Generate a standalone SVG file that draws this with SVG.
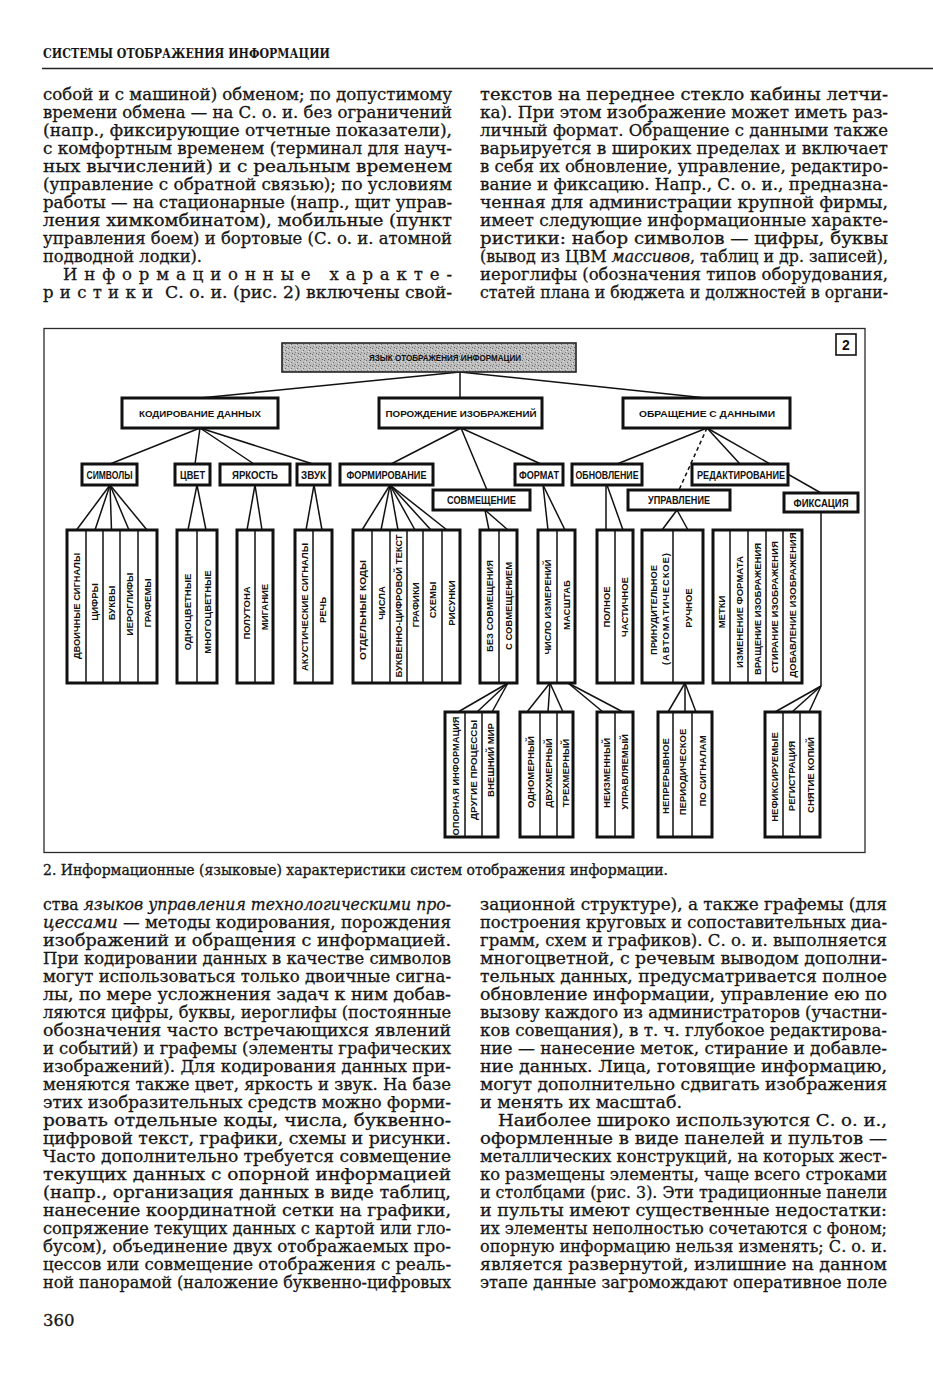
<svg xmlns="http://www.w3.org/2000/svg" width="933" height="1400" viewBox="0 0 933 1400">
<defs>
<pattern id="stip" width="6" height="6" patternUnits="userSpaceOnUse">
<rect width="6" height="6" fill="#bdbdbd"/>
<rect x="0" y="0" width="1" height="1" fill="#666"/>
<rect x="3" y="2" width="1" height="1" fill="#727272"/>
<rect x="1" y="4" width="1" height="1" fill="#808080"/>
<rect x="4" y="5" width="1" height="1" fill="#626262"/>
<rect x="5" y="1" width="1" height="1" fill="#e0e0e0"/>
<rect x="2" y="3" width="1" height="1" fill="#e4e4e4"/>
</pattern>
<style>
.body{font-family:"DejaVu Serif","Liberation Serif",serif;font-size:16.5px;fill:#161616;stroke:#161616;stroke-width:0.3}
.it{font-style:italic}
.hdr{font-family:"DejaVu Serif","Liberation Serif",serif;font-size:13.5px;font-weight:bold;fill:#161616}
.cap{font-family:"DejaVu Serif","Liberation Serif",serif;font-size:14px;fill:#161616;stroke:#161616;stroke-width:0.3}
.frame{fill:none;stroke:#2a2a2a;stroke-width:1.3}
.b1{fill:#fff;stroke:#111;stroke-width:3}
.b2{fill:#fff;stroke:#111;stroke-width:3}
.leaf{fill:#fff;stroke:#111;stroke-width:3}
.dv{stroke:#111;stroke-width:1.5}
.ln{stroke:#111;stroke-width:1.5;fill:none}
.dash{stroke:#111;stroke-width:1.5;stroke-dasharray:4 3;fill:none}
.l1{font-family:"Liberation Sans",Arial,sans-serif;font-weight:bold;font-size:9.5px;text-anchor:middle;fill:#111}
.l2{font-family:"Liberation Sans",Arial,sans-serif;font-weight:bold;font-size:10px;text-anchor:middle;fill:#111}
.lt{font-family:"Liberation Sans",Arial,sans-serif;font-weight:bold;font-size:9.5px;text-anchor:middle;dominant-baseline:central;fill:#111}
</style>
</defs>
<rect width="933" height="1400" fill="#fff"/>

<!-- header -->
<text class="hdr" x="43" y="58" textLength="287" lengthAdjust="spacingAndGlyphs">СИСТЕМЫ ОТОБРАЖЕНИЯ ИНФОРМАЦИИ</text>
<line x1="42" y1="68.5" x2="933" y2="68.5" stroke="#222" stroke-width="1.6"/>

<!-- top left column -->
<g id="text-top-left" class="body">
<text x="43" y="99.5" textLength="409" lengthAdjust="spacingAndGlyphs">собой и с машиной) обменом; по допустимому</text>
<text x="43" y="117.5" textLength="409" lengthAdjust="spacingAndGlyphs">времени обмена — на С. о. и. без ограничений</text>
<text x="43" y="135.5" textLength="409" lengthAdjust="spacingAndGlyphs">(напр., фиксирующие отчетные показатели),</text>
<text x="43" y="153.5" textLength="409" lengthAdjust="spacingAndGlyphs">с комфортным временем (терминал для науч-</text>
<text x="43" y="171.5" textLength="409" lengthAdjust="spacingAndGlyphs">ных вычислений) и с реальным временем</text>
<text x="43" y="189.5" textLength="409" lengthAdjust="spacingAndGlyphs">(управление с обратной связью); по условиям</text>
<text x="43" y="207.5" textLength="409" lengthAdjust="spacingAndGlyphs">работы — на стационарные (напр., щит управ-</text>
<text x="43" y="225.5" textLength="409" lengthAdjust="spacingAndGlyphs">ления химкомбинатом), мобильные (пункт</text>
<text x="43" y="243.5" textLength="409" lengthAdjust="spacingAndGlyphs">управления боем) и бортовые (С. о. и. атомной</text>
<text x="43" y="261.5" textLength="159" lengthAdjust="spacingAndGlyphs">подводной лодки).</text>
<text x="63" y="279.5" textLength="389" lengthAdjust="spacing">Информационные характе-</text>
<text x="43" y="297.5" textLength="110" lengthAdjust="spacing">ристики</text>
<text x="165" y="297.5" textLength="287" lengthAdjust="spacingAndGlyphs">С. о. и. (рис. 2) включены свой-</text>
</g>

<!-- top right column -->
<g id="text-top-right" class="body">
<text x="480" y="99.5" textLength="408" lengthAdjust="spacingAndGlyphs">текстов на переднее стекло кабины летчи-</text>
<text x="480" y="117.5" textLength="408" lengthAdjust="spacingAndGlyphs">ка). При этом изображение может иметь раз-</text>
<text x="480" y="135.5" textLength="408" lengthAdjust="spacingAndGlyphs">личный формат. Обращение с данными также</text>
<text x="480" y="153.5" textLength="408" lengthAdjust="spacingAndGlyphs">варьируется в широких пределах и включает</text>
<text x="480" y="171.5" textLength="408" lengthAdjust="spacingAndGlyphs">в себя их обновление, управление, редактиро-</text>
<text x="480" y="189.5" textLength="408" lengthAdjust="spacingAndGlyphs">вание и фиксацию. Напр., С. о. и., предназна-</text>
<text x="480" y="207.5" textLength="408" lengthAdjust="spacingAndGlyphs">ченная для администрации крупной фирмы,</text>
<text x="480" y="225.5" textLength="408" lengthAdjust="spacingAndGlyphs">имеет следующие информационные характе-</text>
<text x="480" y="243.5" textLength="408" lengthAdjust="spacingAndGlyphs">ристики: набор символов — цифры, буквы</text>
<text x="480" y="261.5" textLength="408" lengthAdjust="spacingAndGlyphs">(вывод из ЦВМ <tspan class="it">массивов</tspan>, таблиц и др. записей),</text>
<text x="480" y="279.5" textLength="408" lengthAdjust="spacingAndGlyphs">иероглифы (обозначения типов оборудования,</text>
<text x="480" y="297.5" textLength="408" lengthAdjust="spacingAndGlyphs">статей плана и бюджета и должностей в органи-</text>
</g>

<!-- diagram frame -->
<rect class="frame" x="44" y="328.5" width="821" height="524"/>
<g id="fig-number">
<rect x="836" y="334" width="20" height="21" fill="#fff" stroke="#111" stroke-width="1.6"/>
<text x="846" y="350" font-family="Liberation Sans, Arial, sans-serif" font-weight="bold" font-size="14" text-anchor="middle" fill="#111">2</text>
</g>

<!-- connectors -->
<g id="connectors">
<line class="ln" x1="460" y1="372" x2="200" y2="398"/>
<line class="ln" x1="460" y1="372" x2="460" y2="398"/>
<line class="ln" x1="460" y1="372" x2="706" y2="398"/>
<line class="ln" x1="200" y1="428" x2="110" y2="464"/>
<line class="ln" x1="200" y1="428" x2="195" y2="464"/>
<line class="ln" x1="200" y1="428" x2="254" y2="464"/>
<line class="ln" x1="200" y1="428" x2="313" y2="464"/>
<line class="ln" x1="461" y1="428" x2="391" y2="464"/>
<line class="ln" x1="461" y1="428" x2="487" y2="490"/>
<line class="ln" x1="461" y1="428" x2="541" y2="464"/>
<line class="ln" x1="707" y1="428" x2="617" y2="464"/>
<line class="dash" x1="707" y1="428" x2="679" y2="490"/>
<line class="ln" x1="707" y1="428" x2="740" y2="464"/>
<line class="ln" x1="707" y1="428" x2="821" y2="493"/>
<line class="ln" x1="110" y1="485" x2="76.5" y2="530"/>
<line class="ln" x1="110" y1="485" x2="95" y2="530"/>
<line class="ln" x1="110" y1="485" x2="111.5" y2="530"/>
<line class="ln" x1="110" y1="485" x2="129" y2="530"/>
<line class="ln" x1="110" y1="485" x2="147" y2="530"/>
<line class="ln" x1="197" y1="485" x2="188" y2="530"/>
<line class="ln" x1="197" y1="485" x2="206" y2="530"/>
<line class="ln" x1="255" y1="485" x2="247" y2="530"/>
<line class="ln" x1="255" y1="485" x2="262" y2="530"/>
<line class="ln" x1="314" y1="485" x2="306" y2="530"/>
<line class="ln" x1="314" y1="485" x2="322" y2="530"/>
<line class="ln" x1="390" y1="485" x2="362" y2="530"/>
<line class="ln" x1="390" y1="485" x2="381" y2="530"/>
<line class="ln" x1="390" y1="485" x2="398" y2="530"/>
<line class="ln" x1="390" y1="485" x2="415" y2="530"/>
<line class="ln" x1="390" y1="485" x2="431" y2="530"/>
<line class="ln" x1="390" y1="485" x2="447" y2="530"/>
<line class="ln" x1="485" y1="510" x2="489" y2="530"/>
<line class="ln" x1="485" y1="510" x2="508" y2="530"/>
<line class="ln" x1="543" y1="485" x2="548" y2="530"/>
<line class="ln" x1="543" y1="485" x2="565" y2="530"/>
<line class="ln" x1="606" y1="485" x2="606" y2="530"/>
<line class="ln" x1="607" y1="485" x2="623" y2="530"/>
<line class="ln" x1="677" y1="510" x2="662" y2="530"/>
<line class="ln" x1="677" y1="510" x2="688" y2="530"/>
<path class="ln" d="M821,512 V686"/>
<line class="ln" x1="508" y1="683" x2="458" y2="712"/>
<line class="ln" x1="508" y1="683" x2="477" y2="712"/>
<line class="ln" x1="508" y1="683" x2="492" y2="712"/>
<line class="ln" x1="550" y1="683" x2="527" y2="712"/>
<line class="ln" x1="550" y1="683" x2="548" y2="712"/>
<line class="ln" x1="550" y1="683" x2="563" y2="712"/>
<line class="ln" x1="568" y1="683" x2="603" y2="712"/>
<line class="ln" x1="568" y1="683" x2="623" y2="712"/>
<line class="ln" x1="685" y1="683" x2="668" y2="712"/>
<line class="ln" x1="685" y1="683" x2="685" y2="712"/>
<line class="ln" x1="685" y1="683" x2="696" y2="712"/>
<line class="ln" x1="821" y1="686" x2="775" y2="712"/>
<line class="ln" x1="821" y1="686" x2="792" y2="712"/>
<line class="ln" x1="821" y1="686" x2="809" y2="712"/>
</g>

<!-- root -->
<g id="n-root">
<rect x="282" y="343" width="294" height="29" fill="url(#stip)" stroke="#222" stroke-width="1.6"/>
<text class="l1" x="445" y="361" font-size="9" textLength="152" lengthAdjust="spacingAndGlyphs">ЯЗЫК ОТОБРАЖЕНИЯ ИНФОРМАЦИИ</text>
</g>

<!-- level 1 -->
<g id="n-coding"><rect class="b1" x="122" y="398" width="156" height="30"/><text class="l1" x="200" y="416.5" textLength="122" lengthAdjust="spacingAndGlyphs">КОДИРОВАНИЕ ДАННЫХ</text></g>
<g id="n-generation"><rect class="b1" x="379" y="398" width="163" height="30"/><text class="l1" x="461" y="416.5" textLength="151" lengthAdjust="spacingAndGlyphs">ПОРОЖДЕНИЕ ИЗОБРАЖЕНИЙ</text></g>
<g id="n-handling"><rect class="b1" x="623" y="398" width="167" height="30"/><text class="l1" x="707" y="416.5" textLength="136" lengthAdjust="spacingAndGlyphs">ОБРАЩЕНИЕ С ДАННЫМИ</text></g>

<!-- level 2 -->
<g id="n-symbols"><rect class="b2" x="82" y="464" width="55" height="21"/><text class="l2" x="109.5" y="478.5" textLength="46" lengthAdjust="spacingAndGlyphs">СИМВОЛЫ</text></g>
<g id="n-color"><rect class="b2" x="175" y="464" width="35" height="21"/><text class="l2" x="192.5" y="478.5" textLength="25" lengthAdjust="spacingAndGlyphs">ЦВЕТ</text></g>
<g id="n-bright"><rect class="b2" x="220" y="464" width="70" height="21"/><text class="l2" x="255" y="478.5" textLength="46" lengthAdjust="spacingAndGlyphs">ЯРКОСТЬ</text></g>
<g id="n-sound"><rect class="b2" x="297" y="464" width="33" height="21"/><text class="l2" x="313.5" y="478.5" textLength="25" lengthAdjust="spacingAndGlyphs">ЗВУК</text></g>
<g id="n-forming"><rect class="b2" x="340" y="464" width="93" height="21"/><text class="l2" x="386.5" y="478.5" textLength="80" lengthAdjust="spacingAndGlyphs">ФОРМИРОВАНИЕ</text></g>
<g id="n-combine"><rect class="b2" x="433" y="490" width="97" height="20"/><text class="l2" x="481.5" y="504" textLength="69" lengthAdjust="spacingAndGlyphs">СОВМЕЩЕНИЕ</text></g>
<g id="n-format"><rect class="b2" x="515" y="464" width="48" height="21"/><text class="l2" x="539" y="478.5" textLength="40" lengthAdjust="spacingAndGlyphs">ФОРМАТ</text></g>
<g id="n-update"><rect class="b2" x="572" y="464" width="70" height="21"/><text class="l2" x="607" y="478.5" textLength="63" lengthAdjust="spacingAndGlyphs">ОБНОВЛЕНИЕ</text></g>
<g id="n-control"><rect class="b2" x="628" y="490" width="102" height="20"/><text class="l2" x="679" y="504" textLength="62" lengthAdjust="spacingAndGlyphs">УПРАВЛЕНИЕ</text></g>
<g id="n-edit"><rect class="b2" x="692" y="464" width="96" height="21"/><text class="l2" x="741" y="478.5" textLength="88" lengthAdjust="spacingAndGlyphs">РЕДАКТИРОВАНИЕ</text></g>
<g id="n-fix"><rect class="b2" x="784" y="493" width="74" height="19"/><text class="l2" x="821" y="506.5" textLength="55" lengthAdjust="spacingAndGlyphs">ФИКСАЦИЯ</text></g>

<!-- leaves row 1 -->
<g id="leaf-symbols">
<rect class="leaf" x="67" y="530" width="90" height="153"/>
<line class="dv" x1="86" y1="530" x2="86" y2="683"/><line class="dv" x1="103" y1="530" x2="103" y2="683"/><line class="dv" x1="120" y1="530" x2="120" y2="683"/><line class="dv" x1="138" y1="530" x2="138" y2="683"/>
<text class="lt" transform="translate(76.5,606) rotate(-90)" textLength="106" lengthAdjust="spacingAndGlyphs">ДВОИЧНЫЕ СИГНАЛЫ</text>
<text class="lt" transform="translate(94.5,602) rotate(-90)">ЦИФРЫ</text>
<text class="lt" transform="translate(111.5,603) rotate(-90)">БУКВЫ</text>
<text class="lt" transform="translate(129,604) rotate(-90)">ИЕРОГЛИФЫ</text>
<text class="lt" transform="translate(147.5,603) rotate(-90)">ГРАФЕМЫ</text>
</g>
<g id="leaf-color">
<rect class="leaf" x="177" y="530" width="40" height="153"/>
<line class="dv" x1="197" y1="530" x2="197" y2="683"/>
<text class="lt" transform="translate(187,612) rotate(-90)">ОДНОЦВЕТНЫЕ</text>
<text class="lt" transform="translate(207,612) rotate(-90)">МНОГОЦВЕТНЫЕ</text>
</g>
<g id="leaf-bright">
<rect class="leaf" x="237" y="530" width="36" height="153"/>
<line class="dv" x1="255" y1="530" x2="255" y2="683"/>
<text class="lt" transform="translate(246,613) rotate(-90)">ПОЛУТОНА</text>
<text class="lt" transform="translate(264,607) rotate(-90)">МИГАНИЕ</text>
</g>
<g id="leaf-sound">
<rect class="leaf" x="295" y="530" width="37" height="153"/>
<line class="dv" x1="313" y1="530" x2="313" y2="683"/>
<text class="lt" transform="translate(304,607) rotate(-90)" textLength="128" lengthAdjust="spacingAndGlyphs">АКУСТИЧЕСКИЕ СИГНАЛЫ</text>
<text class="lt" transform="translate(322.5,610) rotate(-90)">РЕЧЬ</text>
</g>
<g id="leaf-forming">
<rect class="leaf" x="353" y="530" width="107" height="153"/>
<line class="dv" x1="372" y1="530" x2="372" y2="683"/><line class="dv" x1="390" y1="530" x2="390" y2="683"/><line class="dv" x1="407" y1="530" x2="407" y2="683"/><line class="dv" x1="423" y1="530" x2="423" y2="683"/><line class="dv" x1="442" y1="530" x2="442" y2="683"/>
<text class="lt" transform="translate(362.5,610) rotate(-90)" textLength="100" lengthAdjust="spacingAndGlyphs">ОТДЕЛЬНЫЕ КОДЫ</text>
<text class="lt" transform="translate(381,603) rotate(-90)">ЧИСЛА</text>
<text class="lt" transform="translate(398.5,606) rotate(-90)" textLength="143" lengthAdjust="spacingAndGlyphs">БУКВЕННО-ЦИФРОВОЙ ТЕКСТ</text>
<text class="lt" transform="translate(415,605) rotate(-90)">ГРАФИКИ</text>
<text class="lt" transform="translate(432.5,600) rotate(-90)">СХЕМЫ</text>
<text class="lt" transform="translate(451,603) rotate(-90)">РИСУНКИ</text>
</g>
<g id="leaf-combine">
<rect class="leaf" x="480" y="530" width="37" height="153"/>
<line class="dv" x1="499" y1="530" x2="499" y2="683"/>
<text class="lt" transform="translate(489.5,606) rotate(-90)" textLength="92" lengthAdjust="spacingAndGlyphs">БЕЗ СОВМЕЩЕНИЯ</text>
<text class="lt" transform="translate(508,606) rotate(-90)" textLength="88" lengthAdjust="spacingAndGlyphs">С СОВМЕЩЕНИЕМ</text>
</g>
<g id="leaf-format">
<rect class="leaf" x="538" y="530" width="37" height="153"/>
<line class="dv" x1="557" y1="530" x2="557" y2="683"/>
<text class="lt" transform="translate(547.5,607) rotate(-90)" textLength="95" lengthAdjust="spacingAndGlyphs">ЧИСЛО ИЗМЕРЕНИЙ</text>
<text class="lt" transform="translate(566,605) rotate(-90)">МАСШТАБ</text>
</g>
<g id="leaf-update">
<rect class="leaf" x="597" y="530" width="36" height="153"/>
<line class="dv" x1="615" y1="530" x2="615" y2="683"/>
<text class="lt" transform="translate(606,607) rotate(-90)">ПОЛНОЕ</text>
<text class="lt" transform="translate(624,607) rotate(-90)">ЧАСТИЧНОЕ</text>
</g>
<g id="leaf-control">
<rect class="leaf" x="642" y="530" width="61" height="153"/>
<line class="dv" x1="673" y1="530" x2="673" y2="683"/>
<text class="lt" transform="translate(653,610) rotate(-90)" textLength="90" lengthAdjust="spacingAndGlyphs">ПРИНУДИТЕЛЬНОЕ</text>
<text class="lt" transform="translate(665,609) rotate(-90)" textLength="112" lengthAdjust="spacing">(АВТОМАТИЧЕСКОЕ)</text>
<text class="lt" transform="translate(688,608) rotate(-90)">РУЧНОЕ</text>
</g>
<g id="leaf-edit">
<rect class="leaf" x="713" y="530" width="89" height="153"/>
<line class="dv" x1="730" y1="530" x2="730" y2="683"/><line class="dv" x1="748" y1="530" x2="748" y2="683"/><line class="dv" x1="766" y1="530" x2="766" y2="683"/><line class="dv" x1="783" y1="530" x2="783" y2="683"/>
<text class="lt" transform="translate(721.5,612) rotate(-90)">МЕТКИ</text>
<text class="lt" transform="translate(739,612) rotate(-90)" textLength="112" lengthAdjust="spacingAndGlyphs">ИЗМЕНЕНИЕ ФОРМАТА</text>
<text class="lt" transform="translate(757,609) rotate(-90)" textLength="132" lengthAdjust="spacingAndGlyphs">ВРАЩЕНИЕ ИЗОБРАЖЕНИЯ</text>
<text class="lt" transform="translate(774.5,607) rotate(-90)" textLength="132" lengthAdjust="spacingAndGlyphs">СТИРАНИЕ ИЗОБРАЖЕНИЯ</text>
<text class="lt" transform="translate(792.5,605) rotate(-90)" textLength="145" lengthAdjust="spacingAndGlyphs">ДОБАВЛЕНИЕ ИЗОБРАЖЕНИЯ</text>
</g>

<!-- leaves row 2 -->
<g id="leaf-reference">
<rect class="leaf" x="445" y="712" width="53" height="125"/>
<line class="dv" x1="465" y1="712" x2="465" y2="837"/><line class="dv" x1="482" y1="712" x2="482" y2="837"/>
<text class="lt" transform="translate(455,776) rotate(-90)" textLength="119" lengthAdjust="spacingAndGlyphs">ОПОРНАЯ ИНФОРМАЦИЯ</text>
<text class="lt" transform="translate(473.5,770) rotate(-90)" textLength="100" lengthAdjust="spacingAndGlyphs">ДРУГИЕ ПРОЦЕССЫ</text>
<text class="lt" transform="translate(490,760) rotate(-90)">ВНЕШНИЙ МИР</text>
</g>
<g id="leaf-dims">
<rect class="leaf" x="520" y="712" width="53" height="125"/>
<line class="dv" x1="540" y1="712" x2="540" y2="837"/><line class="dv" x1="557" y1="712" x2="557" y2="837"/>
<text class="lt" transform="translate(530,772) rotate(-90)">ОДНОМЕРНЫЙ</text>
<text class="lt" transform="translate(548.5,773) rotate(-90)">ДВУХМЕРНЫЙ</text>
<text class="lt" transform="translate(565,773) rotate(-90)">ТРЕХМЕРНЫЙ</text>
</g>
<g id="leaf-scale">
<rect class="leaf" x="597" y="712" width="36" height="125"/>
<line class="dv" x1="615" y1="712" x2="615" y2="837"/>
<text class="lt" transform="translate(606,773) rotate(-90)">НЕИЗМЕННЫЙ</text>
<text class="lt" transform="translate(624,772) rotate(-90)">УПРАВЛЯЕМЫЙ</text>
</g>
<g id="leaf-manual">
<rect class="leaf" x="658" y="712" width="54" height="125"/>
<line class="dv" x1="673" y1="712" x2="673" y2="837"/><line class="dv" x1="692" y1="712" x2="692" y2="837"/>
<text class="lt" transform="translate(665.5,776) rotate(-90)">НЕПРЕРЫВНОЕ</text>
<text class="lt" transform="translate(682.5,772) rotate(-90)">ПЕРИОДИЧЕСКОЕ</text>
<text class="lt" transform="translate(702,771) rotate(-90)">ПО СИГНАЛАМ</text>
</g>
<g id="leaf-fix">
<rect class="leaf" x="765" y="712" width="55" height="125"/>
<line class="dv" x1="783" y1="712" x2="783" y2="837"/><line class="dv" x1="800" y1="712" x2="800" y2="837"/>
<text class="lt" transform="translate(774,777) rotate(-90)">НЕФИКСИРУЕМЫЕ</text>
<text class="lt" transform="translate(791.5,776) rotate(-90)">РЕГИСТРАЦИЯ</text>
<text class="lt" transform="translate(810,775) rotate(-90)">СНЯТИЕ КОПИЙ</text>
</g>

<!-- caption -->
<text class="cap" x="43" y="874.5" textLength="625" lengthAdjust="spacingAndGlyphs">2. Информационные (языковые) характеристики систем отображения информации.</text>

<!-- bottom left column -->
<g id="text-bottom-left" class="body">
<text x="43" y="909.5" textLength="408" lengthAdjust="spacingAndGlyphs">ства <tspan class="it">языков управления технологическими про-</tspan></text>
<text x="43" y="927.5" textLength="408" lengthAdjust="spacingAndGlyphs"><tspan class="it">цессами</tspan> — методы кодирования, порождения</text>
<text x="43" y="945.5" textLength="408" lengthAdjust="spacingAndGlyphs">изображений и обращения с информацией.</text>
<text x="43" y="963.5" textLength="408" lengthAdjust="spacingAndGlyphs">При кодировании данных в качестве символов</text>
<text x="43" y="981.5" textLength="408" lengthAdjust="spacingAndGlyphs">могут использоваться только двоичные сигна-</text>
<text x="43" y="999.5" textLength="408" lengthAdjust="spacingAndGlyphs">лы, по мере усложнения задач к ним добав-</text>
<text x="43" y="1017.5" textLength="408" lengthAdjust="spacingAndGlyphs">ляются цифры, буквы, иероглифы (постоянные</text>
<text x="43" y="1035.5" textLength="408" lengthAdjust="spacingAndGlyphs">обозначения часто встречающихся явлений</text>
<text x="43" y="1053.5" textLength="408" lengthAdjust="spacingAndGlyphs">и событий) и графемы (элементы графических</text>
<text x="43" y="1071.5" textLength="408" lengthAdjust="spacingAndGlyphs">изображений). Для кодирования данных при-</text>
<text x="43" y="1089.5" textLength="408" lengthAdjust="spacingAndGlyphs">меняются также цвет, яркость и звук. На базе</text>
<text x="43" y="1107.5" textLength="408" lengthAdjust="spacingAndGlyphs">этих изобразительных средств можно форми-</text>
<text x="43" y="1125.5" textLength="408" lengthAdjust="spacingAndGlyphs">ровать отдельные коды, числа, буквенно-</text>
<text x="43" y="1143.5" textLength="408" lengthAdjust="spacingAndGlyphs">цифровой текст, графики, схемы и рисунки.</text>
<text x="43" y="1161.5" textLength="408" lengthAdjust="spacingAndGlyphs">Часто дополнительно требуется совмещение</text>
<text x="43" y="1179.5" textLength="408" lengthAdjust="spacingAndGlyphs">текущих данных с опорной информацией</text>
<text x="43" y="1197.5" textLength="408" lengthAdjust="spacingAndGlyphs">(напр., организация данных в виде таблиц,</text>
<text x="43" y="1215.5" textLength="408" lengthAdjust="spacingAndGlyphs">нанесение координатной сетки на графики,</text>
<text x="43" y="1233.5" textLength="408" lengthAdjust="spacingAndGlyphs">сопряжение текущих данных с картой или гло-</text>
<text x="43" y="1251.5" textLength="408" lengthAdjust="spacingAndGlyphs">бусом), объединение двух отображаемых про-</text>
<text x="43" y="1269.5" textLength="408" lengthAdjust="spacingAndGlyphs">цессов или совмещение отображения с реаль-</text>
<text x="43" y="1287.5" textLength="408" lengthAdjust="spacingAndGlyphs">ной панорамой (наложение буквенно-цифровых</text>
</g>

<!-- bottom right column -->
<g id="text-bottom-right" class="body">
<text x="480" y="909.5" textLength="407" lengthAdjust="spacingAndGlyphs">зационной структуре), а также графемы (для</text>
<text x="480" y="927.5" textLength="407" lengthAdjust="spacingAndGlyphs">построения круговых и сопоставительных диа-</text>
<text x="480" y="945.5" textLength="407" lengthAdjust="spacingAndGlyphs">грамм, схем и графиков). С. о. и. выполняется</text>
<text x="480" y="963.5" textLength="407" lengthAdjust="spacingAndGlyphs">многоцветной, с речевым выводом дополни-</text>
<text x="480" y="981.5" textLength="407" lengthAdjust="spacingAndGlyphs">тельных данных, предусматривается полное</text>
<text x="480" y="999.5" textLength="407" lengthAdjust="spacingAndGlyphs">обновление информации, управление ею по</text>
<text x="480" y="1017.5" textLength="407" lengthAdjust="spacingAndGlyphs">вызову каждого из администраторов (участни-</text>
<text x="480" y="1035.5" textLength="407" lengthAdjust="spacingAndGlyphs">ков совещания), в т. ч. глубокое редактирова-</text>
<text x="480" y="1053.5" textLength="407" lengthAdjust="spacingAndGlyphs">ние — нанесение меток, стирание и добавле-</text>
<text x="480" y="1071.5" textLength="407" lengthAdjust="spacingAndGlyphs">ние данных. Лица, готовящие информацию,</text>
<text x="480" y="1089.5" textLength="407" lengthAdjust="spacingAndGlyphs">могут дополнительно сдвигать изображения</text>
<text x="480" y="1107.5" textLength="202" lengthAdjust="spacingAndGlyphs">и менять их масштаб.</text>
<text x="498" y="1125.5" textLength="389" lengthAdjust="spacingAndGlyphs">Наиболее широко используются С. о. и.,</text>
<text x="480" y="1143.5" textLength="407" lengthAdjust="spacingAndGlyphs">оформленные в виде панелей и пультов —</text>
<text x="480" y="1161.5" textLength="407" lengthAdjust="spacingAndGlyphs">металлических конструкций, на которых жест-</text>
<text x="480" y="1179.5" textLength="407" lengthAdjust="spacingAndGlyphs">ко размещены элементы, чаще всего строками</text>
<text x="480" y="1197.5" textLength="407" lengthAdjust="spacingAndGlyphs">и столбцами (рис. 3). Эти традиционные панели</text>
<text x="480" y="1215.5" textLength="407" lengthAdjust="spacingAndGlyphs">и пульты имеют существенные недостатки:</text>
<text x="480" y="1233.5" textLength="407" lengthAdjust="spacingAndGlyphs">их элементы неполностью сочетаются с фоном;</text>
<text x="480" y="1251.5" textLength="407" lengthAdjust="spacingAndGlyphs">опорную информацию нельзя изменять; С. о. и.</text>
<text x="480" y="1269.5" textLength="407" lengthAdjust="spacingAndGlyphs">является развернутой, излишние на данном</text>
<text x="480" y="1287.5" textLength="407" lengthAdjust="spacingAndGlyphs">этапе данные загромождают оперативное поле</text>
</g>

<text class="body" x="43" y="1326">360</text>
</svg>
